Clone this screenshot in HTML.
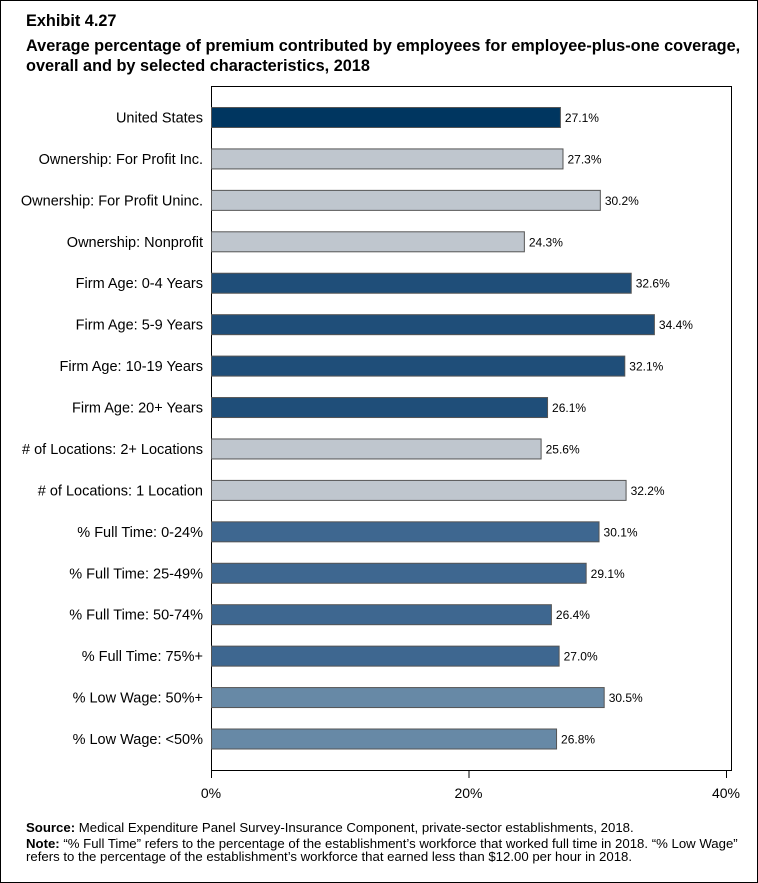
<!DOCTYPE html>
<html><head><meta charset="utf-8"><style>
body{margin:0;background:#fff;font-family:"Liberation Sans",Arial,sans-serif}
#wrap{position:relative;width:756px;height:881px;border:1px solid #000;overflow:hidden}
.t{position:absolute;left:25px;font-weight:bold;font-size:16.3px;color:#000;white-space:nowrap;line-height:20px}
.src{position:absolute;left:25px;font-size:13.2px;color:#000;white-space:nowrap;line-height:13px}
</style></head><body>
<div id="wrap">
<div class="t" style="top:10px">Exhibit 4.27</div>
<div class="t" style="top:35px">Average percentage of premium contributed by employees for employee-plus-one coverage,<br>overall and by selected characteristics, 2018</div>
<svg id="chart" width="758" height="883" style="position:absolute;left:-1px;top:-1px"></svg>
<div class="src" style="top:820px"><b>Source:</b> Medical Expenditure Panel Survey-Insurance Component, private-sector establishments, 2018.</div>
<div class="src" style="top:836px"><b>Note:</b> “% Full Time” refers to the percentage of the establishment’s workforce that worked full time in 2018. “% Low Wage”<br>refers to the percentage of the establishment’s workforce that earned less than $12.00 per hour in 2018.</div>
</div>
<script>
const categories=["United States","Ownership: For Profit Inc.","Ownership: For Profit Uninc.","Ownership: Nonprofit","Firm Age: 0-4 Years","Firm Age: 5-9 Years","Firm Age: 10-19 Years","Firm Age: 20+ Years","# of Locations: 2+ Locations","# of Locations: 1 Location","% Full Time: 0-24%","% Full Time: 25-49%","% Full Time: 50-74%","% Full Time: 75%+","% Low Wage: 50%+","% Low Wage: <50%"];
const values=[27.1,27.3,30.2,24.3,32.6,34.4,32.1,26.1,25.6,32.2,30.1,29.1,26.4,27.0,30.5,26.8];
const groups=["us","own","own","own","age","age","age","age","loc","loc","ft","ft","ft","ft","lw","lw"];
const tickValues=[0,20,40];
const tickLabels=["0%","20%","40%"];
const colorMap={us:"#003660",own:"#bfc6ce",age:"#1f4e79",loc:"#bfc6ce",ft:"#3e6790",lw:"#6789a6"};
const NS="http://www.w3.org/2000/svg";
const svg=document.getElementById("chart");
const L=211,R=731,T=86,B=770,X0=211,X40=726;
const x=v=>X0+v*(X40-X0)/40;
const firstC=117.5,lastC=739;
const yc=i=>firstC+i*(lastC-firstC)/(categories.length-1);
function mk(tag,a){const e=document.createElementNS(NS,tag);for(const k in a)e.setAttribute(k,a[k]);svg.appendChild(e);return e;}
const box=mk("rect",{x:L+0.5,y:T+0.5,width:R-L,height:B-T,fill:"none",stroke:"#000","stroke-width":1});


categories.forEach((c,i)=>{
  const r=mk("rect",{x:x(0)+0.5,y:yc(i)-10,width:x(values[i])-x(0),height:20,fill:colorMap[groups[i]],stroke:"#555","stroke-width":1});
  
  
  const lb=mk("text",{x:203,y:yc(i)+5,"text-anchor":"end","font-size":14.5,fill:"#000","font-family":"Liberation Sans, sans-serif"});
  lb.textContent=c;
  
  
  const v=mk("text",{x:x(values[i])+5,y:yc(i)+4.5,"font-size":12,fill:"#000","font-family":"Liberation Sans, sans-serif"});
  v.textContent=values[i].toFixed(1)+"%";
  
  
});
tickValues.forEach((t,i)=>{
  const ln=mk("line",{x1:x(t)+0.5,x2:x(t)+0.5,y1:B,y2:B+8,stroke:"#000"});
  
  
  const tx=mk("text",{x:x(t),y:798,"text-anchor":"middle","font-size":14,fill:"#000","font-family":"Liberation Sans, sans-serif"});
  tx.textContent=tickLabels[i];
  
  
});
</script>
</body></html>
